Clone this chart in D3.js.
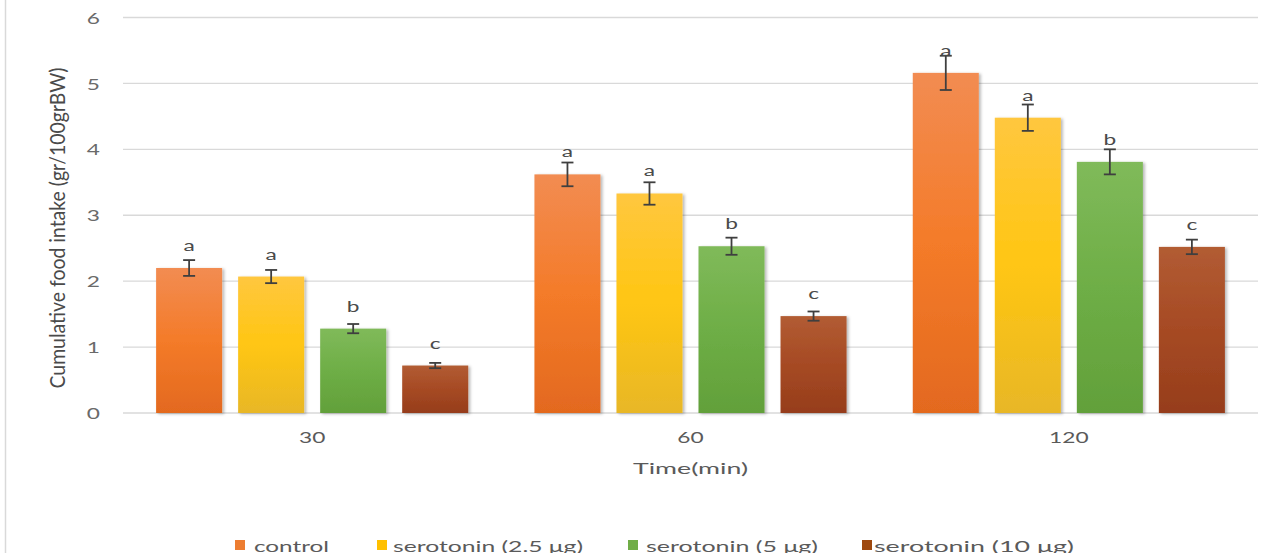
<!DOCTYPE html>
<html>
<head>
<meta charset="utf-8">
<script src="https://cdn.jsdelivr.net/npm/d3@7/dist/d3.min.js"></script>
<style>
  html, body { margin: 0; padding: 0; background: #fff; }
  svg { display: block; }
  text { font-family: Lato, "Open Sans", sans-serif; }
</style>
</head>
<body>
<svg id="chart" width="1285" height="553"></svg>
<script>
// Time points (min) and treatment groups
const timePoints = ["30", "60", "120"];
const groups = ["control", "serotonin (2.5 μg)", "serotonin (5 μg)", "serotonin (10 μg)"];

// Mean cumulative food intake (gr/100grBW) per group at each time point
const controlMeans = [2.20, 3.62, 5.16];
const sero25Means  = [2.07, 3.33, 4.48];
const sero5Means   = [1.28, 2.53, 3.81];
const sero10Means  = [0.72, 1.47, 2.52];

// Error bar half-widths
const controlErr = [0.12, 0.18, 0.26];
const sero25Err  = [0.10, 0.17, 0.20];
const sero5Err   = [0.07, 0.13, 0.19];
const sero10Err  = [0.04, 0.07, 0.11];

// Significance letters
const controlSig = ["a", "a", "a"];
const sero25Sig  = ["a", "a", "a"];
const sero5Sig   = ["b", "b", "b"];
const sero10Sig  = ["c", "c", "c"];

const yTicks = [0, 1, 2, 3, 4, 5, 6];

const means = [controlMeans, sero25Means, sero5Means, sero10Means];
const errs = [controlErr, sero25Err, sero5Err, sero10Err];
const sigs = [controlSig, sero25Sig, sero5Sig, sero10Sig];

// gradient stops per group: [top, middle, bottom]
const palette = [
  ["#F28C52", "#F47B29", "#E3691F"],
  ["#FFC73F", "#FFC612", "#E8B727"],
  ["#80BA5A", "#6EAE46", "#62A03A"],
  ["#B25C33", "#A64A24", "#963D1B"]
];
const swatch = ["#ED7D31", "#FFC000", "#70AD47", "#9E480E"];

const SX = 1.42; // horizontal text stretch
const svg = d3.select("#chart");
const defs = svg.append("defs");

palette.forEach((c, i) => {
  const g = defs.append("linearGradient").attr("id", "grad" + i)
    .attr("x1", 0).attr("y1", 0).attr("x2", 0).attr("y2", 1);
  g.append("stop").attr("offset", "0%").attr("stop-color", c[0]);
  g.append("stop").attr("offset", "50%").attr("stop-color", c[1]);
  g.append("stop").attr("offset", "100%").attr("stop-color", c[2]);
});

const shadow = defs.append("filter").attr("id", "shadow")
  .attr("x", "-10%").attr("y", "-10%").attr("width", "130%").attr("height", "130%");
shadow.append("feDropShadow").attr("dx", 2).attr("dy", 1).attr("stdDeviation", 1.6)
  .attr("flood-color", "#000").attr("flood-opacity", 0.28);

const plotLeft = 123, plotRight = 1258, plotTop = 17.5, plotBottom = 413;

const x0 = d3.scaleBand().domain(timePoints).range([plotLeft, plotRight])
  .paddingInner(0.175).paddingOuter(0.0875);
const x1 = d3.scaleBand().domain(d3.range(groups.length)).range([0, x0.bandwidth()])
  .paddingInner(0.195).paddingOuter(0);
const y = d3.scaleLinear().domain([0, 6]).range([plotBottom, plotTop]);

// chart area left border
svg.append("line").attr("x1", 5.5).attr("x2", 5.5).attr("y1", 0).attr("y2", 553)
  .attr("stroke", "#D9D9D9").attr("stroke-width", 1.5);

// horizontal gridlines
svg.append("g").selectAll("line").data(yTicks).join("line")
  .attr("x1", plotLeft).attr("x2", plotRight)
  .attr("y1", d => y(d)).attr("y2", d => y(d))
  .attr("stroke", "#D9D9D9").attr("stroke-width", 1.4);

function stretchText(sel, xf, yf) {
  return sel.attr("transform", (d, i) => `translate(${xf(d, i)},${yf(d, i)}) scale(${SX},1)`);
}

// y tick labels
stretchText(
  svg.append("g").selectAll("text").data(yTicks).join("text")
    .text(d => d).attr("text-anchor", "end").attr("dominant-baseline", "central")
    .attr("font-size", 16).attr("fill", "#6a6a6a"),
  () => 100, d => y(d));

// y axis title
svg.append("text")
  .attr("transform", `translate(57,228) scale(${SX},1) rotate(-90)`)
  .attr("text-anchor", "middle").attr("dominant-baseline", "central")
  .attr("font-size", 15).attr("fill", "#4a4a4a")
  .attr("textLength", 321).attr("lengthAdjust", "spacingAndGlyphs")
  .text("Cumulative food intake (gr/100grBW)");

// bars
const bars = svg.append("g");
timePoints.forEach((t, ti) => {
  groups.forEach((gname, gi) => {
    const v = means[gi][ti];
    const bx = x0(t) + x1(gi);
    const bw = x1.bandwidth();
    bars.append("rect")
      .attr("x", bx).attr("y", y(v)).attr("width", bw).attr("height", y(0) - y(v))
      .attr("fill", `url(#grad${gi})`).attr("filter", "url(#shadow)");
  });
});

// error bars
const errG = svg.append("g").attr("stroke", "#3F3F3F").attr("stroke-width", 1.8);
timePoints.forEach((t, ti) => {
  groups.forEach((gname, gi) => {
    const v = means[gi][ti], e = errs[gi][ti];
    const cx = x0(t) + x1(gi) + x1.bandwidth() / 2;
    errG.append("line").attr("x1", cx).attr("x2", cx).attr("y1", y(v + e)).attr("y2", y(v - e));
    errG.append("line").attr("x1", cx - 6).attr("x2", cx + 6).attr("y1", y(v + e)).attr("y2", y(v + e));
    errG.append("line").attr("x1", cx - 6).attr("x2", cx + 6).attr("y1", y(v - e)).attr("y2", y(v - e));
  });
});

// significance letters
const sigG = svg.append("g");
timePoints.forEach((t, ti) => {
  groups.forEach((gname, gi) => {
    const v = means[gi][ti];
    const cx = x0(t) + x1(gi) + x1.bandwidth() / 2;
    sigG.append("text")
      .attr("transform", `translate(${cx},${y(v) - 17}) scale(${SX},1)`)
      .attr("text-anchor", "middle").attr("font-size", 16).attr("fill", "#4a4a4a")
      .text(sigs[gi][ti]);
  });
});

// x tick labels
stretchText(
  svg.append("g").selectAll("text").data(timePoints).join("text")
    .text(d => d).attr("text-anchor", "middle").attr("dominant-baseline", "central")
    .attr("font-size", 16).attr("fill", "#5a5a5a"),
  d => x0(d) + x0.bandwidth() / 2, () => 437);

// x axis title
svg.append("text")
  .attr("transform", `translate(${(plotLeft + plotRight) / 2},468) scale(${SX},1)`)
  .attr("text-anchor", "middle").attr("dominant-baseline", "central")
  .attr("font-size", 16).attr("fill", "#5a5a5a")
  .attr("textLength", 115 / SX).attr("lengthAdjust", "spacingAndGlyphs")
  .text("Time(min)");

// legend: swatch left edge, label start and label length for each entry
const legendLayout = [
  { sw: 235, tx: 254, len: 75 },
  { sw: 377, tx: 393, len: 190 },
  { sw: 628, tx: 646, len: 172 },
  { sw: 862, tx: 874, len: 200 }
];
const legend = svg.append("g").attr("transform", "translate(0,545)");
groups.forEach((g, i) => {
  const L = legendLayout[i];
  legend.append("rect").attr("x", L.sw).attr("y", -5).attr("width", 10).attr("height", 10)
    .attr("fill", swatch[i]);
  legend.append("text").attr("x", L.tx).attr("y", 0)
    .attr("dominant-baseline", "central").attr("font-size", 16).attr("fill", "#5a5a5a")
    .attr("textLength", L.len).attr("lengthAdjust", "spacingAndGlyphs")
    .text(g);
});
</script>
</body>
</html>
